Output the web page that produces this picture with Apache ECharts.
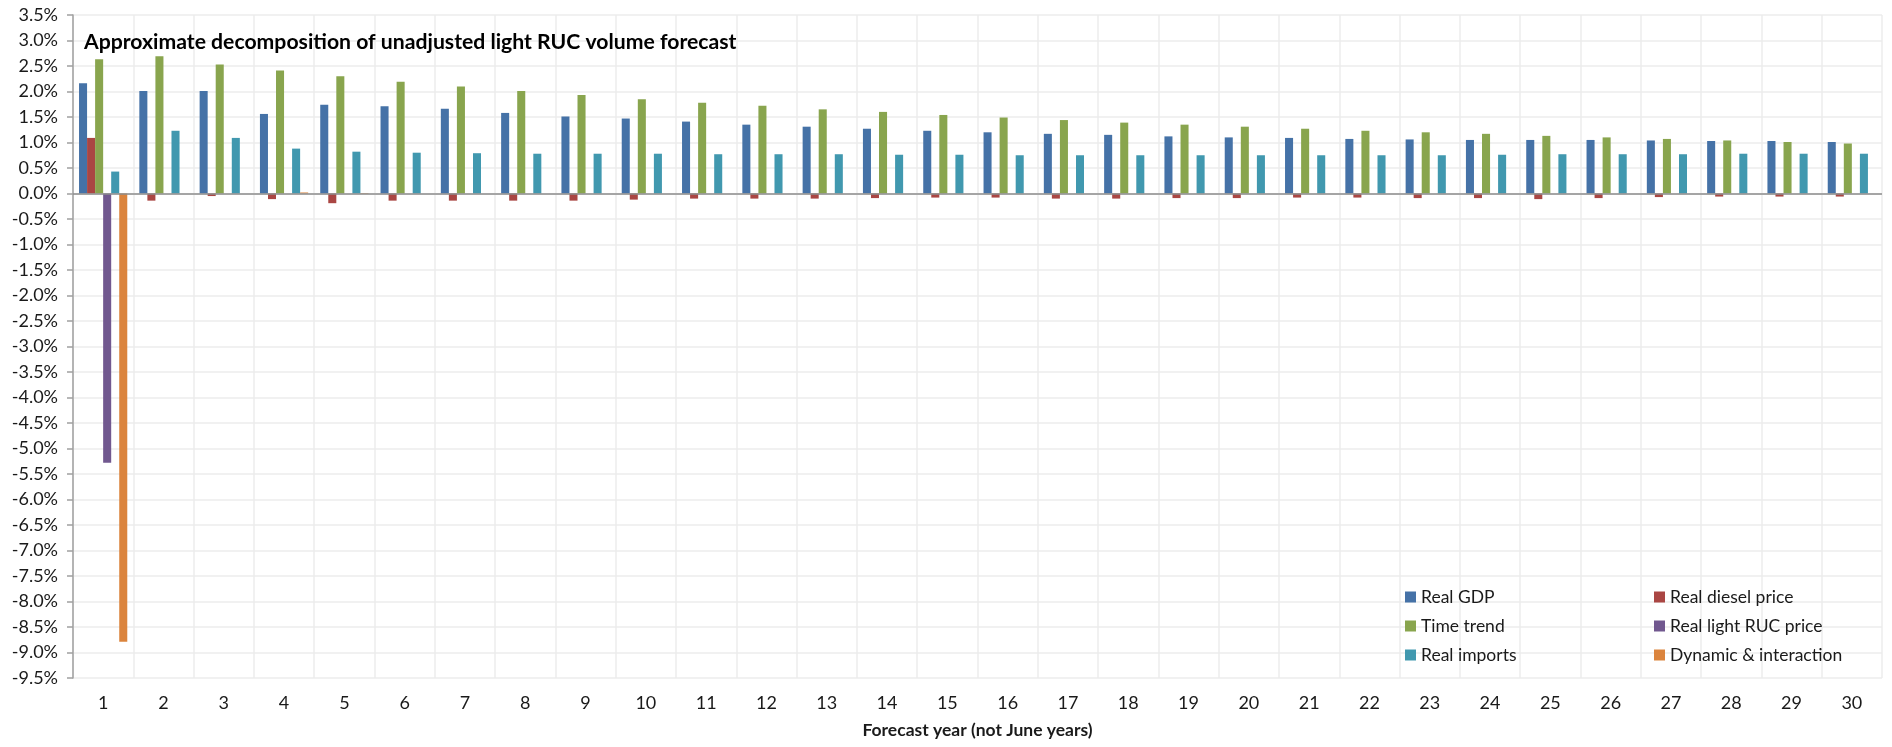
<!DOCTYPE html>
<html>
<head>
<meta charset="utf-8">
<script src="https://cdn.jsdelivr.net/npm/echarts@6/dist/echarts.min.js"></script>
<style>
html,body{margin:0;padding:0;background:#fff;}
#chart{width:1892px;height:747px;}
</style>
</head>
<body>
<div id="chart"></div>
<script>
const categories = ['1','2','3','4','5','6','7','8','9','10','11','12','13','14','15','16','17','18','19','20','21','22','23','24','25','26','27','28','29','30'];
const realGDP = [2.16,2.01,2.01,1.56,1.74,1.71,1.66,1.58,1.51,1.47,1.41,1.35,1.31,1.27,1.23,1.20,1.17,1.15,1.12,1.10,1.09,1.07,1.06,1.05,1.05,1.05,1.04,1.03,1.03,1.01];
const realDieselPrice = [1.09,-0.14,-0.05,-0.11,-0.19,-0.14,-0.14,-0.14,-0.14,-0.12,-0.10,-0.10,-0.10,-0.09,-0.08,-0.08,-0.10,-0.10,-0.09,-0.09,-0.08,-0.08,-0.09,-0.09,-0.11,-0.09,-0.07,-0.06,-0.06,-0.06];
const timeTrend = [2.63,2.69,2.53,2.41,2.30,2.19,2.10,2.01,1.93,1.85,1.78,1.72,1.65,1.60,1.54,1.49,1.44,1.39,1.35,1.31,1.27,1.23,1.20,1.17,1.13,1.10,1.07,1.04,1.01,0.98];
const realLightRUCPrice = [-5.28,0,0,0,0,0,0,0,0,0,0,0,0,0,0,0,0,0,0,0,0,0,0,0,0,0,0,0,0,0];
const realImports = [0.43,1.23,1.09,0.88,0.82,0.80,0.79,0.78,0.78,0.78,0.77,0.77,0.77,0.76,0.76,0.75,0.75,0.75,0.75,0.75,0.75,0.75,0.75,0.76,0.77,0.77,0.77,0.78,0.78,0.78];
const dynamicInteraction = [-8.79,0,0,0.02,0.01,0,0,0,0,0,0,0,0,0,0,0,0,0,0,0,0,0,0,0,0,0,0,0,0,0];

const seriesNames = ['Real GDP','Real diesel price','Time trend','Real light RUC price','Real imports','Dynamic & interaction'];
const seriesData = [realGDP, realDieselPrice, timeTrend, realLightRUCPrice, realImports, dynamicInteraction];
const colors = ['#4572A7','#AA4643','#89A54E','#71588F','#4198AF','#DB843D'];

const FONT = 'Lato';
const chart = echarts.init(document.getElementById('chart'));

const series = seriesNames.map((name, i) => {
  const s = {
    name: name,
    type: 'bar',
    data: seriesData[i],
    barGap: '0%',
    barCategoryGap: '20%',
    itemStyle: { color: colors[i] },
    emphasis: { disabled: true },
    animation: false
  };
  if (i === 0) {
    s.markLine = {
      silent: true,
      symbol: ['none','none'],
      label: { show: false },
      lineStyle: { color: '#8c8c8c', width: 1.5, type: 'solid' },
      data: [{ yAxis: 0 }],
      animation: false
    };
  }
  return s;
});

const legendText = { fontFamily: FONT, fontSize: 17.5, color: '#1a1a1a', lineHeight: 20 };

chart.setOption({
  animation: false,
  color: colors,
  title: {
    text: 'Approximate decomposition of unadjusted light RUC volume forecast',
    left: 84,
    top: 31,
    padding: 0,
    textStyle: { fontFamily: FONT, fontWeight: 'bold', fontSize: 21.2, color: '#000', lineHeight: 23 }
  },
  legend: [
    {
      orient: 'vertical',
      left: 1405,
      top: 587,
      padding: 0,
      itemWidth: 11,
      itemHeight: 11,
      itemGap: 9,
      icon: 'rect',
      selectedMode: false,
      data: ['Real GDP','Time trend','Real imports'],
      textStyle: legendText
    },
    {
      orient: 'vertical',
      left: 1654,
      top: 587,
      padding: 0,
      itemWidth: 11,
      itemHeight: 11,
      itemGap: 9,
      icon: 'rect',
      selectedMode: false,
      data: ['Real diesel price','Real light RUC price','Dynamic & interaction'],
      textStyle: legendText
    }
  ],
  grid: { left: 73, right: 10, top: 15, bottom: 69, containLabel: false },
  xAxis: {
    type: 'category',
    data: categories,
    boundaryGap: true,
    name: 'Forecast year (not June years)',
    nameLocation: 'middle',
    nameGap: 43,
    nameTextStyle: { fontFamily: FONT, fontWeight: 'bold', fontSize: 17.5, color: '#1a1a1a' },
    axisLine: { show: false, onZero: false },
    axisTick: { show: false },
    axisLabel: { fontFamily: FONT, fontSize: 18, color: '#1a1a1a', margin: 16, interval: 0 },
    splitLine: { show: true, interval: 0, lineStyle: { color: '#ececec', width: 1.5 } }
  },
  yAxis: {
    type: 'value',
    min: -9.5,
    max: 3.5,
    interval: 0.5,
    axisLine: { show: true, lineStyle: { color: '#a0a0a0', width: 1.5 } },
    axisTick: { show: true, inside: false, length: 6, lineStyle: { color: '#a0a0a0', width: 1.5 } },
    axisLabel: {
      fontFamily: FONT, fontSize: 18, color: '#1a1a1a', margin: 15,
      formatter: v => v.toFixed(1) + '%'
    },
    splitLine: { show: true, lineStyle: { color: '#ececec', width: 1.5 } }
  },
  series: series
});
</script>
</body>
</html>
